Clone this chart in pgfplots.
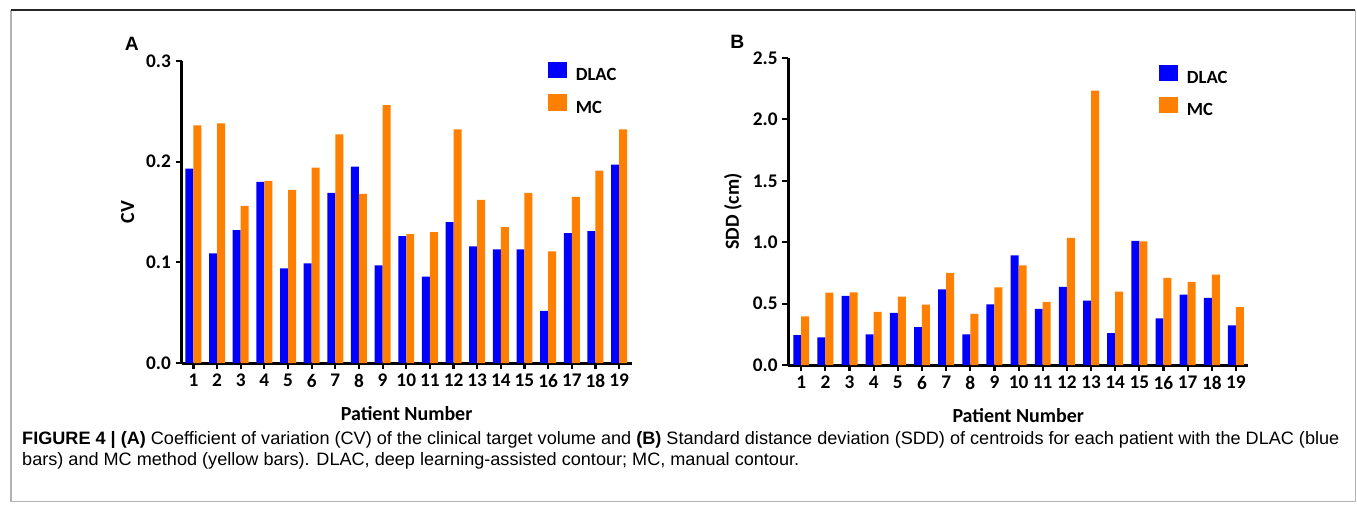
\documentclass[border=0pt]{standalone}
\usepackage{fontspec}
\setmainfont{Carlito}
\newfontfamily\capfont{Liberation Sans}
\usepackage{graphicx}
\usepackage{pgfplots}
\usepackage{pgfplotstable}
\pgfplotsset{compat=1.18}
\definecolor{dlacblue}{HTML}{0000FF}
\definecolor{mcorange}{HTML}{FF8000}

% patient, CV (panel A), SDD in cm (panel B)
\pgfplotstableread{
pt  cv     sdd
1   0.193  0.245
2   0.109  0.226
3   0.132  0.563
4   0.180  0.250
5   0.094  0.425
6   0.099  0.309
7   0.169  0.617
8   0.195  0.250
9   0.097  0.495
10  0.126  0.893
11  0.086  0.458
12  0.140  0.638
13  0.116  0.525
14  0.113  0.261
15  0.113  1.012
16  0.052  0.380
17  0.129  0.574
18  0.131  0.548
19  0.197  0.324
}\dlac
\pgfplotstableread{
pt  cv     sdd
1   0.236  0.398
2   0.238  0.590
3   0.156  0.593
4   0.181  0.433
5   0.172  0.558
6   0.194  0.493
7   0.227  0.752
8   0.168  0.418
9   0.256  0.634
10  0.128  0.813
11  0.130  0.515
12  0.232  1.036
13  0.162  2.233
14  0.135  0.598
15  0.169  1.008
16  0.111  0.710
17  0.165  0.677
18  0.191  0.737
19  0.232  0.473
}\mc

\pgfplotsset{
  panel/.style={
    scale only axis,
    ybar=0pt, bar width=6pt,
    axis x line*=bottom, axis y line*=left,
    axis line style={line width=2pt, black},
    tick align=outside, major tick length=4.5pt,
    tick style={line width=1.6pt, black},
    xtick={1,...,19}, ymin=0,
    enlarge x limits=false,
    ticklabel style={font=\fontsize{14.5}{14.5}\selectfont\bfseries},
    /pgf/number format/assume math mode=true,
    yticklabel style={/pgf/number format/.cd, fixed, fixed zerofill, precision=1},
    xlabel={Patient Number},
    every axis x label/.style={at={(axis description cs:0.5,-0.165)}, anchor=center},
    every axis y label/.style={at={(axis description cs:-0.12,0.5)}, rotate=90, anchor=center},
    label style={font=\fontsize{15}{15}\selectfont\bfseries},
    legend style={draw=none, fill=none, inner sep=0pt, outer sep=0pt,
      anchor=north west, row sep=8.4pt,
      font=\fontsize{14}{14}\selectfont\bfseries,
      nodes={inner sep=0pt}},
    legend cell align=left,
    % square, then a gap before the text
    legend image code/.code={
      \draw[##1, draw=none] (0pt,-1.9pt) rectangle (14.25pt,10.5pt);
      \path (21pt,0pt);},
  },
  dl/.style={fill=dlacblue, draw=none},
  mm/.style={fill=mcorange, draw=none},
}

% caption lines, the second one squeezed by the same factor as the first
\newsavebox\capone
\newsavebox\captwo
\sbox\capone{\capfont\fontsize{13.5}{13.5}\selectfont\textbf{FIGURE 4 | (A)} Coefficient of variation (CV) of the clinical target volume and \textbf{(B)} Standard distance deviation (SDD) of centroids for each patient with the DLAC (blue}
\sbox\captwo{\capfont\fontsize{13.5}{13.5}\selectfont bars) and MC method (yellow bars). DLAC, deep learning-assisted contour; MC, manual contour.}

\begin{document}
\pgfmathsetmacro\capf{990/\wd\capone}
\begin{tikzpicture}
\useasboundingbox (0,0) rectangle (1017.75pt,-380.25pt);

% frame round figure and caption
\draw[gray!60, line width=1.2pt] (6pt,-7.5pt) -- (6pt,-377pt) -- (1016.5pt,-377pt) -- (1016.5pt,-7.5pt);
\draw[black!85, line width=1pt] (6pt,-7.5pt) -- (1016.5pt,-7.5pt);

% panel A
\begin{axis}[panel, at={(134.25pt,-273pt)}, anchor=south west,
  width=338.25pt, height=227.25pt,
  xmin=0.5, xmax=19.53, ymax=0.3, ytick={0,0.1,0.2,0.3},
  ylabel={CV},
  legend style={at={(rel axis cs:0.814,0.997)}}]
\addplot[dl] table[x=pt, y=cv] {\dlac};
\addplot[mm] table[x=pt, y=cv] {\mc};
\legend{DLAC, MC}
\end{axis}

% panel B
\begin{axis}[panel, at={(590.25pt,-274.5pt)}, anchor=south west,
  width=345.75pt, height=231pt,
  xmin=0.463, xmax=19.51, ymax=2.5, ytick={0,0.5,...,2.5},
  ylabel={SDD (cm)},
  legend style={at={(rel axis cs:0.806,0.978)}}]
\addplot[dl] table[x=pt, y=sdd] {\dlac};
\addplot[mm] table[x=pt, y=sdd] {\mc};
\legend{DLAC, MC}
\end{axis}

% panel letters
\node[font=\capfont\bfseries\fontsize{14.5}{14.5}\selectfont] at (96.75pt,-33pt) {A};
\node[font=\capfont\bfseries\fontsize{14.5}{14.5}\selectfont] at (552pt,-31.5pt) {B};

% caption
\node[anchor=west, inner sep=0pt] at (14.25pt,-330.75pt) {\scalebox{\capf}[1]{\usebox\capone}};
\node[anchor=west, inner sep=0pt] at (14.25pt,-346.5pt) {\scalebox{\capf}[1]{\usebox\captwo}};
\end{tikzpicture}
\end{document}
